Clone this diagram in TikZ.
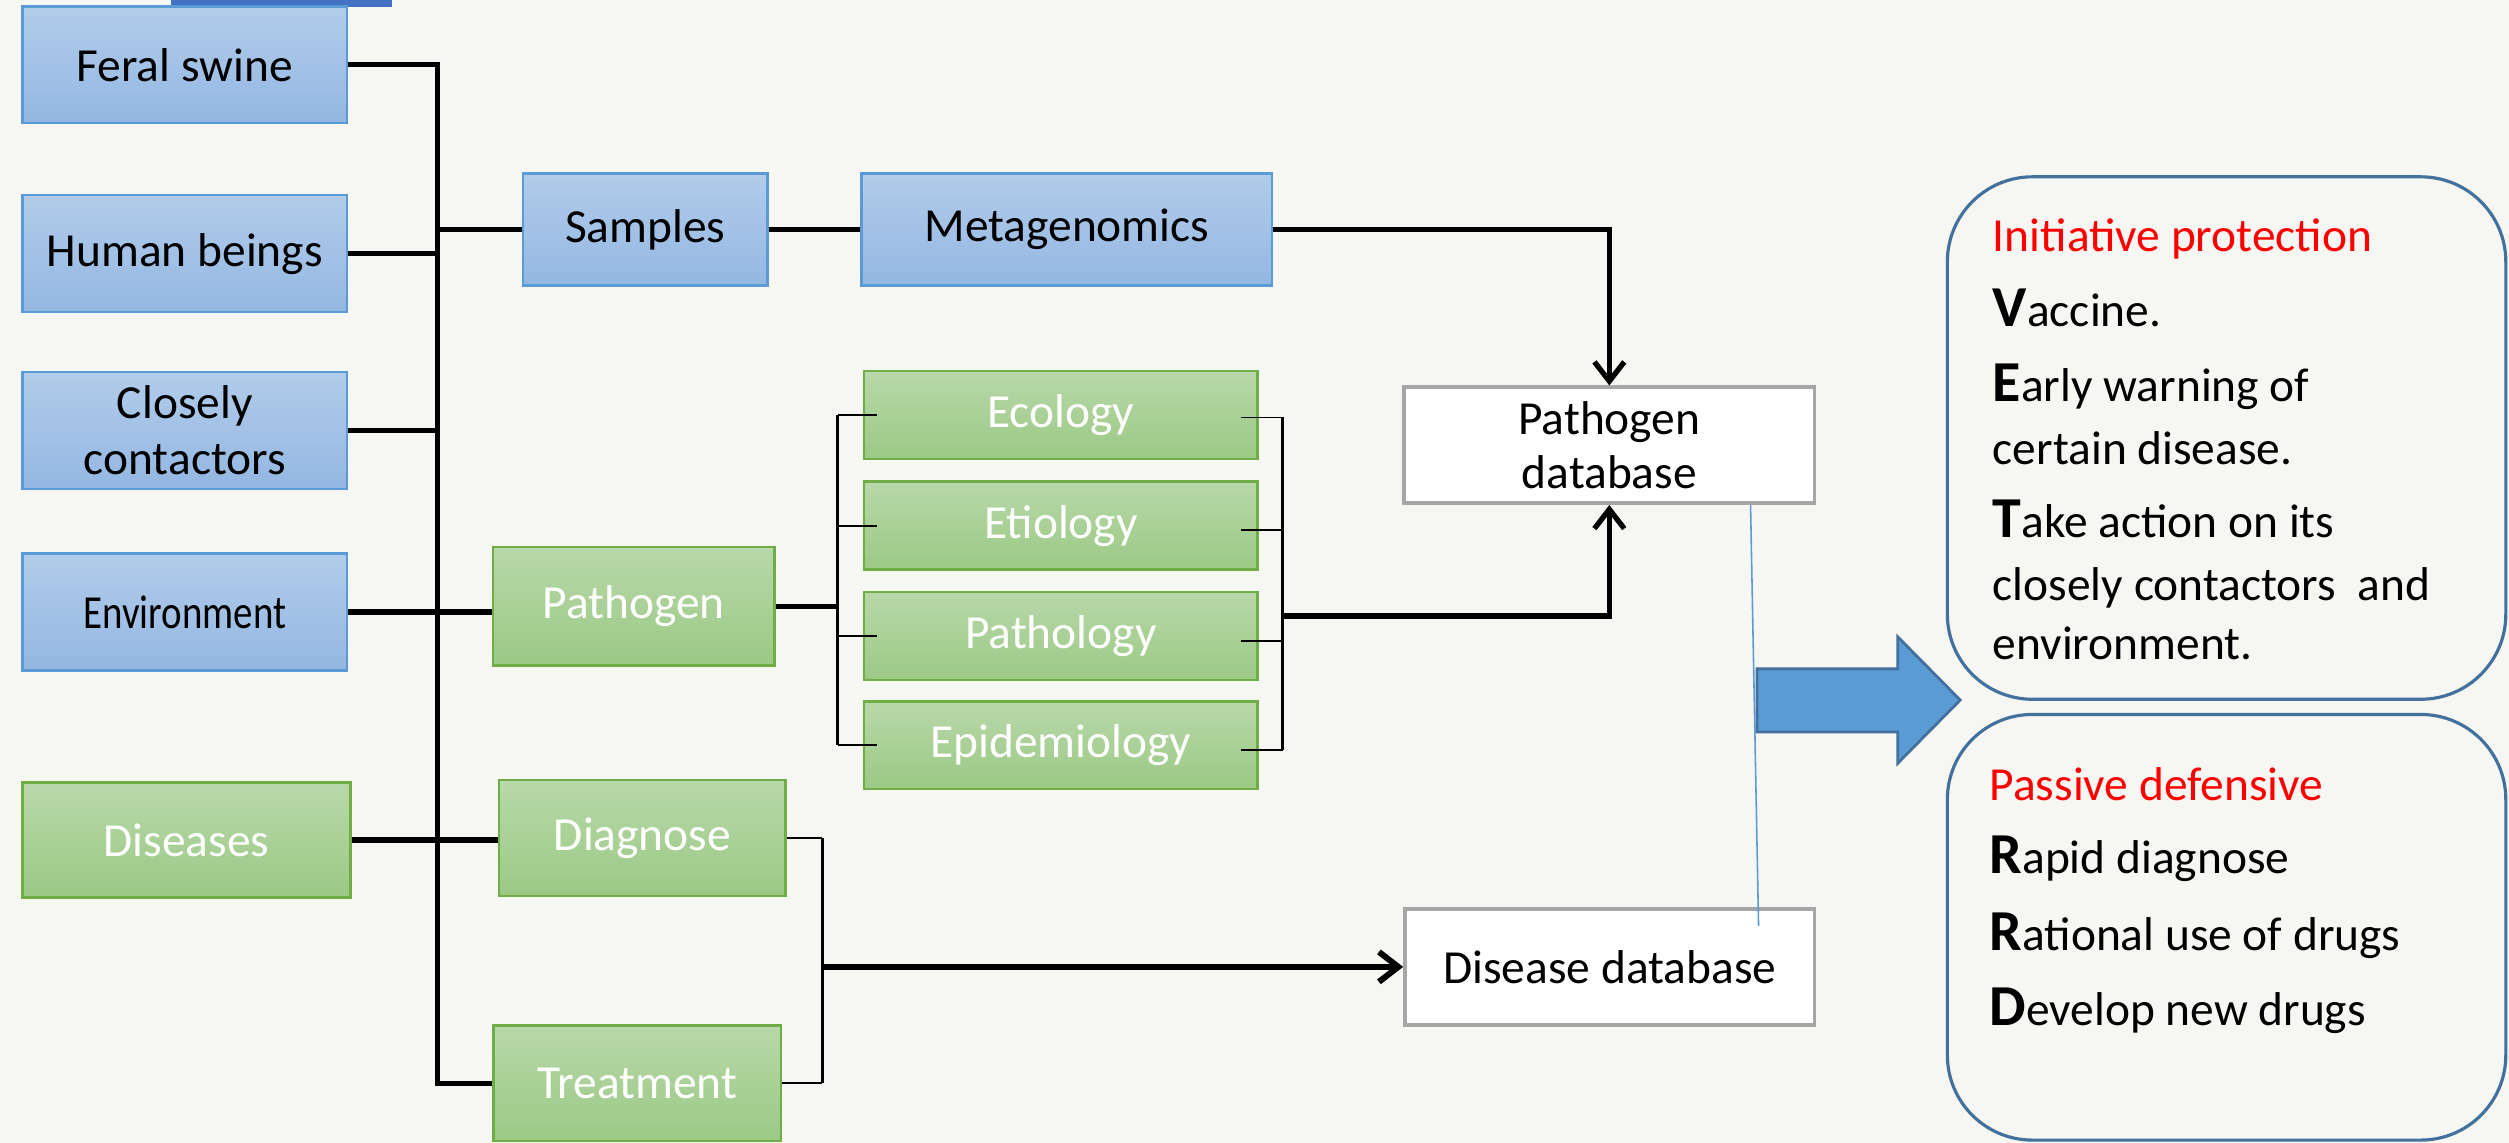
\documentclass[tikz,border=0pt]{standalone}
\usepackage{fontspec}
\setmainfont{Carlito}
\usepackage{graphicx}
\usetikzlibrary{arrows.meta,fit,calc}

\definecolor{paper}{HTML}{F6F6F2}
\definecolor{blueTop}{HTML}{B2CCEA}
\definecolor{blueBot}{HTML}{93B7E2}
\definecolor{blueEdge}{HTML}{5B9BD5}
\definecolor{greenTop}{HTML}{B8D8A9}
\definecolor{greenBot}{HTML}{9BC985}
\definecolor{greenEdge}{HTML}{70AD47}
\definecolor{dbEdge}{HTML}{A6A6A6}
\definecolor{panelEdge}{HTML}{41719C}
\definecolor{arrowFill}{HTML}{5B9BD5}
\definecolor{tabBlue}{HTML}{4472C4}

\newcommand{\boxfont}{\fontsize{13.5}{16}\selectfont}
\newcommand{\initial}[1]{{\fontsize{16.5}{16}\selectfont\bfseries #1}}

\begin{document}
\begin{tikzpicture}[x=0.016cm, y=-0.016cm,
  boxtext/.style={inner sep=0pt, font=\boxfont, align=center},
  bluebox/.style={draw=blueEdge, line width=0.7pt, top color=blueTop, bottom color=blueBot,
                  inner sep=0pt, label={[boxtext, text=black]center:#1}},
  greenbox/.style={draw=greenEdge, line width=0.7pt, top color=greenTop, bottom color=greenBot,
                   inner sep=0pt, label={[boxtext, text=white]center:#1}},
  dbbox/.style={draw=dbEdge, line width=1pt, fill=white, inner sep=0pt,
                label={[boxtext, font=\fontsize{13.5}{15.5}\selectfont, text=black]center:#1}},
  panel/.style={draw=panelEdge, line width=0.9pt, rounded corners=0.85cm, inner sep=0pt},
  paneltext/.style={anchor=base west, inner sep=0pt, font=\boxfont},
  lk/.style={line width=1.5pt, draw=black},
  midlk/.style={line width=1.1pt, draw=black},
  thinlk/.style={line width=0.5pt, draw=black},
  tip/.style={-{Straight Barb[length=5.5pt,width=8.5pt]}},
  bigarrow/.style={fill=arrowFill, draw=panelEdge, line width=0.8pt, line join=miter},
  ]

  % page and top tab
  \useasboundingbox (0,0) rectangle (1568,714);
  \fill[paper] (0,0) rectangle (1568,714);
  \fill[tabBlue] (107,0) rectangle (245,4.5);

  % source column
  \node[bluebox={Feral swine}, fit={(14,4) (217,77)}] (feral) {};
  \node[bluebox={Human beings}, fit={(14,122) (217,195)}] (human) {};
  \node[bluebox={Closely\\contactors}, fit={(14,232.5) (217,305.5)}] (close) {};
  \node[bluebox={\scalebox{0.82}[1]{Environment}}, fit={(14,346) (217,419)}] (env) {};
  \node[greenbox={Diseases}, fit={(14,489) (219,561)}] (dis) {};

  % second column
  \node[bluebox={Samples}, fit={(327,108.5) (479.5,178.5)}] (samples) {};
  \node[bluebox={Metagenomics}, fit={(538.5,108.5) (795,178.5)}] (meta) {};
  \node[greenbox={Pathogen}, fit={(308,342) (484,416)}] (pathogen) {};
  \node[greenbox={Diagnose}, fit={(312,487.5) (491,560)}] (diag) {};
  \node[greenbox={Treatment}, fit={(308.5,641) (488,713)}] (treat) {};

  % pathogen aspects
  \node[greenbox={Ecology}, fit={(540,231.7) (786,287)}] (eco) {};
  \node[greenbox={Etiology}, fit={(540,301) (786,356)}] (etio) {};
  \node[greenbox={Pathology}, fit={(540,370) (786,425)}] (patho) {};
  \node[greenbox={Epidemiology}, fit={(540,438.5) (786,493)}] (epi) {};

  % databases
  \node[dbbox={Pathogen\\database}, fit={(877.5,242) (1134,314.5)}] (pdb) {};
  \node[dbbox={Disease database}, fit={(878,568) (1134,640.5)}] (ddb) {};

  % main bus
  \coordinate (bustop) at (273.6,40.5);
  \coordinate (busbot) at (273.6,677);
  \draw[lk] (feral.east) -- (bustop) -- (busbot) -- (treat.west);
  \draw[lk] (human.east) -- (human.east -| bustop);
  \draw[lk] (close.east) -- (close.east -| bustop);
  \draw[lk] (env.east) -- (env.east -| pathogen.west);
  \draw[lk] (dis.east) -- (dis.east -| diag.west);
  \draw[lk] (samples.west -| bustop) -- (samples.west);
  \draw[lk] (samples.east) -- (meta.west);
  \draw[lk, tip] (meta.east) -| (pdb.north);

  % left bracket of the aspects
  \coordinate (lbx) at (523.4,0);
  \draw[lk] (pathogen.east) -- (pathogen.east -| lbx);
  \draw[midlk] (lbx |- eco) -- (lbx |- epi);
  \foreach \b in {eco,etio,patho,epi}
    \draw[thinlk] (lbx |- \b) -- ($(\b.west)+(9,0)$);

  % right bracket of the aspects
  \coordinate (rbx) at (801.5,0);
  \draw[midlk] ($(rbx |- eco)+(0,1.5)$) -- ($(rbx |- epi)+(0,3)$);
  \foreach \b/\d in {eco/1.5,etio/2.5,patho/3,epi/3}
    \draw[thinlk] ($(\b.east)+(-11,\d)$) -- ($(rbx |- \b)+(0,\d)$);
  \coordinate (rbmid) at (801.5,385);
  \draw[lk, tip] (rbmid) -| (pdb.south);

  % diagnose / treatment bracket
  \coordinate (dbx) at (514,0);
  \draw[thinlk] (diag.east) -- (diag.east -| dbx);
  \draw[thinlk] (treat.east) -- (treat.east -| dbx);
  \draw[midlk] (diag.east -| dbx) -- (treat.east -| dbx);
  \draw[line width=1.7pt, tip] (ddb.west -| dbx) -- (ddb.west);

  % thin link between the databases
  \draw[arrowFill, line width=0.45pt] ($(pdb.south)+(88.25,0)$) -- ($(ddb.north)+(93,11.8)$);

  % conclusion panels
  \node[panel, fit={(1217,110.5) (1566,437)}] (active) {};
  \node[panel, fit={(1217,446.5) (1566,712.5)}] (passive) {};

  % wide arrow towards the panels
  \draw[bigarrow] (1098,418) -- (1186,418) -- (1186,398) -- (1225,437.5)
        -- (1186,477) -- (1186,457.5) -- (1098,457.5) -- cycle;

  % panel texts
  \node[paneltext] (ip) at (1245,157) {\textcolor{red}{Initiative protection}};
  \node[paneltext] (v1) at (1245,204) {\initial{V}accine.};
  \node[paneltext] (e1) at (1245,251) {\initial{E}arly warning of};
  \node[paneltext] (e2) at (1245,290) {certain disease.};
  \node[paneltext] (t1) at (1245,336) {\initial{T}ake action on its};
  \node[paneltext] (t2) at (1245,375) {closely contactors~~and};
  \node[paneltext] (t3) at (1245,412) {environment.};

  \node[paneltext] (pd) at (1243,500) {\textcolor{red}{Passive defensive}};
  \node[paneltext] (r1) at (1243,546) {\initial{R}apid diagnose};
  \node[paneltext] (r2) at (1243,594) {\initial{R}ational use of drugs};
  \node[paneltext] (d1) at (1243,641) {\initial{D}evelop new drugs};
\end{tikzpicture}
\end{document}
